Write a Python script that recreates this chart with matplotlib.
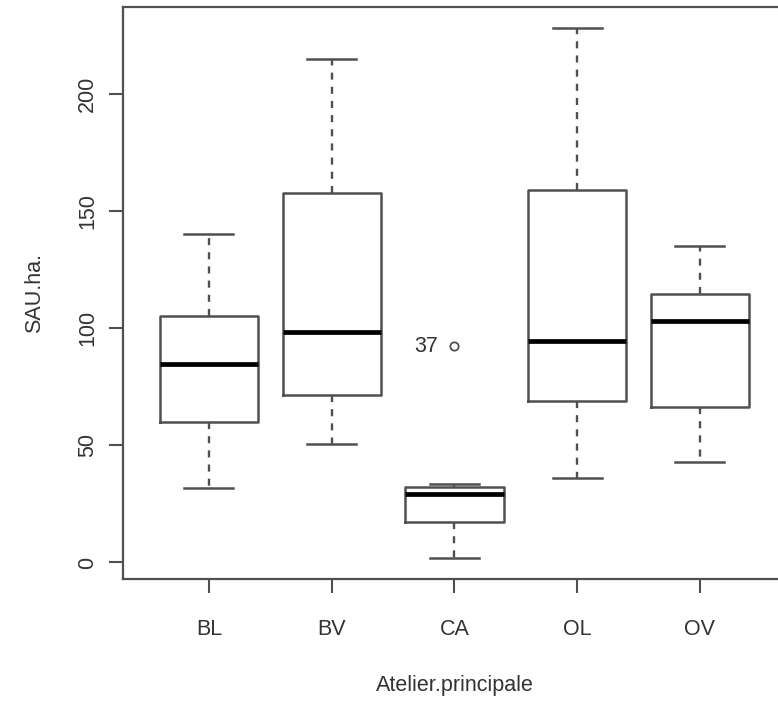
import matplotlib
matplotlib.use('Agg')
import matplotlib.pyplot as plt

# summary stats (R-style boxplot)
groups = ['BL', 'BV', 'CA', 'OL', 'OV']
whislo = [31.6, 50.8, 2.0, 35.9, 43.0]
q1 = [59.8, 71.6, 17.3, 68.8, 66.3]
med = [84.6, 98.2, 29.2, 94.4, 103.3]
q3 = [105.2, 157.6, 32.4, 159.2, 114.8]
whishi = [140.4, 214.9, 33.3, 228.2, 135.1]
outliers = [[], [], [92.4], [], []]
outlier_labels = [[], [], ['37'], [], []]

plt.rcParams['font.family'] = ['Liberation Sans', 'DejaVu Sans']
txt = '#333333'
line = '#505050'

fig = plt.figure(figsize=(7.78, 7.02), dpi=100)
ax = fig.add_axes([0.1581, 0.1752, 0.852, 0.815])

stats = []
for i in range(len(groups)):
    stats.append({'whislo': whislo[i], 'q1': q1[i], 'med': med[i], 'q3': q3[i],
                  'whishi': whishi[i], 'fliers': outliers[i], 'label': groups[i]})

pos = list(range(1, len(groups) + 1))
ax.bxp(stats, positions=pos, widths=0.8, showfliers=True,
       boxprops=dict(color=line, linewidth=1.8),
       medianprops=dict(color='black', linewidth=3.4, solid_capstyle='butt'),
       whiskerprops=dict(color=line, linewidth=1.7, linestyle=(0, (3, 3))),
       capprops=dict(color=line, linewidth=1.8),
       capwidths=0.4,
       flierprops=dict(marker='o', markersize=6, markerfacecolor='none',
                       markeredgecolor=line, markeredgewidth=1.3))

for i in range(len(groups)):
    for v, lab in zip(outliers[i], outlier_labels[i]):
        ax.annotate(lab, (pos[i], v), xytext=(-12, 0), textcoords='offset points',
                    ha='right', va='center', fontsize=15.5, color=txt)

ax.set_xlim(0.3, 5.7)
ax.set_ylim(-7.05, 237.2)
ax.set_yticks([0, 50, 100, 150, 200])
ax.set_xticks(pos)
ax.set_xticklabels(groups)
ax.tick_params(axis='y', labelrotation=90, length=10, width=1.5, color=line,
               labelsize=15.5, labelcolor=txt, pad=8)
ax.tick_params(axis='x', length=10, width=1.5, color=line,
               labelsize=15.5, labelcolor=txt, pad=19)
for lab in ax.get_yticklabels():
    lab.set_va('center')
for s in ax.spines.values():
    s.set_color(line)
    s.set_linewidth(1.6)

ax.set_xlabel('Atelier.principale', fontsize=15.5, color=txt, labelpad=25)
ax.set_ylabel('SAU.ha.', fontsize=15.5, color=txt, labelpad=23)

fig.savefig('out.png', dpi=100)
